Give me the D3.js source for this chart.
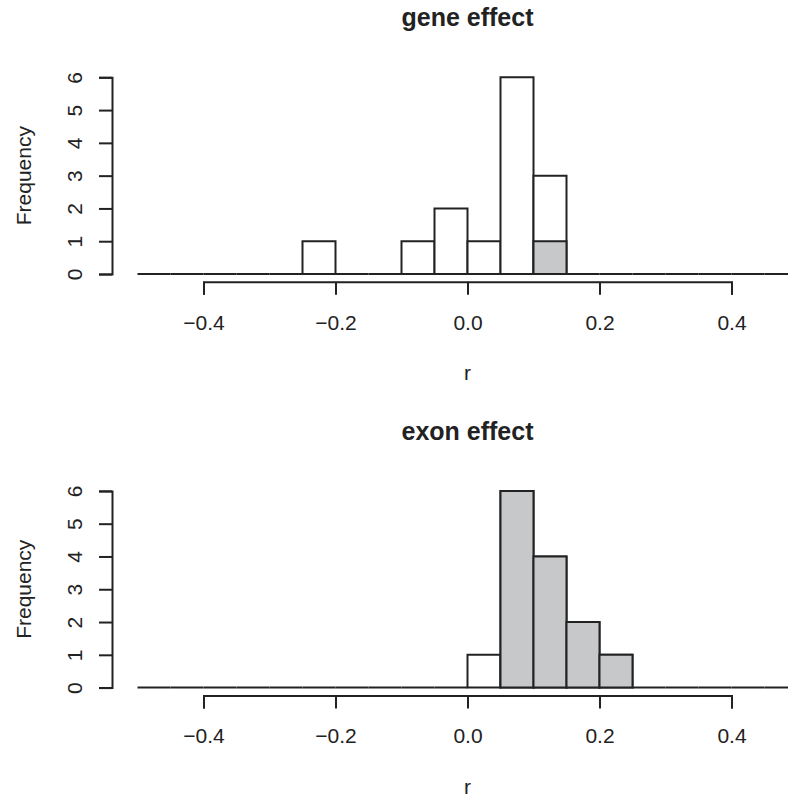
<!DOCTYPE html>
<html>
<head>
<meta charset="utf-8">
<script src="https://cdn.jsdelivr.net/npm/d3@7"></script>
<style>
  body { margin: 0; background: #fff; }
  svg { display: block; font-family: "Liberation Sans", Arial, Helvetica, sans-serif; }
</style>
</head>
<body>
<svg width="788" height="794"></svg>
<script>
// histogram breaks (width 0.05)
const breaks = [-0.5, -0.45, -0.4, -0.35, -0.3, -0.25, -0.2, -0.15, -0.1, -0.05,
    0, 0.05, 0.1, 0.15, 0.2, 0.25, 0.3, 0.35, 0.4, 0.45, 0.5];

// counts per bin
const geneCounts = [0, 0, 0, 0, 0, 1, 0, 0, 1, 2, 1, 6, 3, 0, 0, 0, 0, 0, 0, 0];
const geneSig    = [0, 0, 0, 0, 0, 0, 0, 0, 0, 0, 0, 0, 1, 0, 0, 0, 0, 0, 0, 0];
const exonCounts = [0, 0, 0, 0, 0, 0, 0, 0, 0, 0, 1, 6, 4, 2, 1, 0, 0, 0, 0, 0];
const exonSig    = [0, 0, 0, 0, 0, 0, 0, 0, 0, 0, 0, 6, 4, 2, 1, 0, 0, 0, 0, 0];

const xTicks = [-0.4, -0.2, 0.0, 0.2, 0.4];
const yTicks = [0, 1, 2, 3, 4, 5, 6];

const panels = [
    { title: 'gene effect', counts: geneCounts, sig: geneSig, top: 0 },
    { title: 'exon effect', counts: exonCounts, sig: exonSig, top: 413.6 },
];

const ink = '#222';
const grey = '#c7c8ca';
const fs = 21;

const svg = d3.select('svg');

// x scale shared by both panels
const x = d3.scaleLinear().domain([-0.5, 0.5]).range([137.5, 797.5]);

panels.forEach((p) => {
    const g = svg.append('g').attr('transform', `translate(0,${p.top})`);

    const y = d3.scaleLinear().domain([0, 6]).range([274, 77.3]);

    const bins = p.counts.map((c, i) => ({ x0: breaks[i], x1: breaks[i + 1], n: c, s: p.sig[i] }));

    // outline of every bin (zero bins draw as the baseline)
    g.selectAll('.bin')
        .data(bins)
        .enter()
        .append('path')
        .attr('class', 'bin')
        .attr('d', (d) => `M${x(d.x0)},${y(0)}V${y(d.n)}H${x(d.x1)}V${y(0)}Z`)
        .attr('fill', '#fff')
        .attr('stroke', ink)
        .attr('stroke-width', 2);

    // grey part for the significant ones
    g.selectAll('.sig')
        .data(bins.filter((d) => d.s > 0))
        .enter()
        .append('path')
        .attr('class', 'sig')
        .attr('d', (d) => `M${x(d.x0)},${y(0)}V${y(d.s)}H${x(d.x1)}V${y(0)}Z`)
        .attr('fill', grey)
        .attr('stroke', ink)
        .attr('stroke-width', 2);

    // x axis, only across the tick range like R does
    const xa = d3.scaleLinear().domain([-0.4, 0.4]).range([x(-0.4), x(0.4)]);
    const gx = g.append('g')
        .attr('transform', 'translate(0,281.8)')
        .call(d3.axisBottom(xa).tickValues(xTicks).tickSizeOuter(0).tickSize(13)
            .tickPadding(20).tickFormat(d3.format('.1f')));
    gx.selectAll('text').attr('font-size', fs).attr('fill', ink).attr('font-family', null);

    // y axis
    const gy = g.append('g')
        .attr('transform', 'translate(112,0)')
        .call(d3.axisLeft(y).tickValues(yTicks).tickSizeOuter(0).tickSize(13).tickFormat(d3.format('d')));
    gy.selectAll('.tick text')
        .attr('x', null).attr('dy', null)
        .attr('text-anchor', 'middle')
        .attr('transform', 'translate(-30.5,0) rotate(-90)')
        .attr('font-size', fs).attr('fill', ink);

    [gx, gy].forEach((a) => {
        a.attr('font-family', null);
        a.select('.domain').attr('stroke', ink).attr('stroke-width', 2);
        a.selectAll('.tick line').attr('stroke', ink).attr('stroke-width', 2);
    });

    // titles and labels
    g.append('text')
        .attr('x', 467.5).attr('y', 26)
        .attr('text-anchor', 'middle')
        .attr('font-weight', 'bold')
        .attr('font-size', 25)
        .attr('fill', ink)
        .text(p.title);

    g.append('text')
        .attr('x', 467.5).attr('y', 380)
        .attr('text-anchor', 'middle')
        .attr('font-size', fs)
        .attr('fill', ink)
        .text('r');

    g.append('text')
        .attr('transform', `translate(30.5,${(y(0) + y(6)) / 2}) rotate(-90)`)
        .attr('text-anchor', 'middle')
        .attr('font-size', fs)
        .attr('fill', ink)
        .text('Frequency');
});
</script>
</body>
</html>
